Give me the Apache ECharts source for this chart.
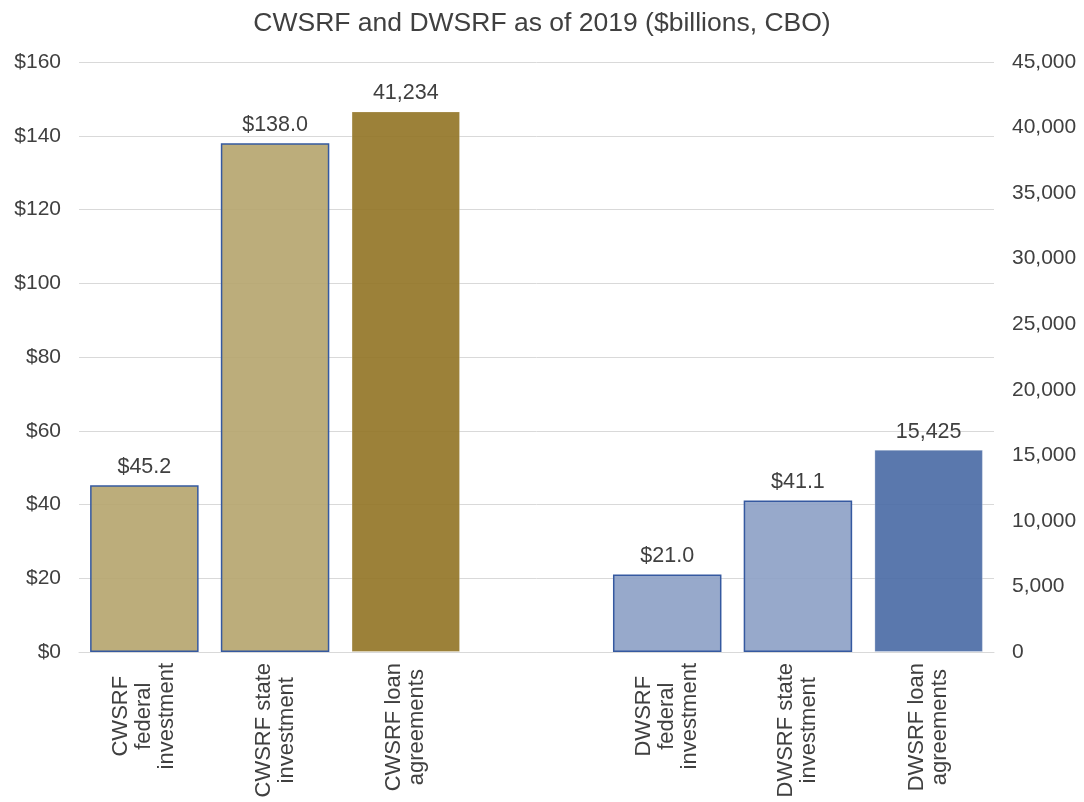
<!DOCTYPE html>
<html>
<head>
<meta charset="utf-8">
<script src="https://cdn.jsdelivr.net/npm/echarts@6/dist/echarts.min.js"></script>
<style>
  html, body { margin: 0; padding: 0; background: #fff; }
  #chart { width: 1084px; height: 802px; }
</style>
</head>
<body>
<div id="chart"></div>
<script>
// Categories (an empty slot separates the two funds)
const categories = [
  'CWSRF\nfederal\ninvestment',
  'CWSRF state\ninvestment',
  'CWSRF loan\nagreements',
  '',
  'DWSRF\nfederal\ninvestment',
  'DWSRF state\ninvestment',
  'DWSRF loan\nagreements'
];

// Investment amounts, $ billions (left axis)
const investment = [45.2, 138.0, null, null, 21.0, 41.1, null];

// Number of loan agreements (right axis)
const loanAgreements = [null, null, 41234, null, null, null, 15425];

// Bar colours per category
const investFill = ['rgba(181,164,109,0.9)', 'rgba(181,164,109,0.9)', null, null,
                    'rgba(140,160,197,0.9)', 'rgba(140,160,197,0.9)', null];
const loanFill = [null, null, 'rgba(148,118,40,0.92)', null, null, null, 'rgba(76,108,166,0.92)'];

const textColor = '#404040';
const fontFamily = '"Liberation Sans", Arial, Helvetica, sans-serif';

const chart = echarts.init(document.getElementById('chart'), null, { renderer: 'canvas' });

chart.setOption({
  backgroundColor: '#ffffff',
  animation: false,
  textStyle: { fontFamily: fontFamily, color: textColor },
  title: {
    text: 'CWSRF and DWSRF as of 2019 ($billions, CBO)',
    left: 'center',
    top: 5,
    textStyle: { fontSize: 26.5, fontWeight: 'normal', color: textColor, fontFamily: fontFamily }
  },
  grid: { left: 79, right: 90, top: 62, bottom: 150 },
  xAxis: {
    type: 'category',
    data: categories,
    axisTick: { show: false },
    axisLine: { lineStyle: { color: '#d9d9d9', width: 1 } },
    axisLabel: {
      interval: 0,
      rotate: 90,
      margin: 11,
      color: textColor,
      formatter: function (v) {
        return v.split('\n').map(function (l) { return '{c|' + l + '}'; }).join('\n');
      },
      rich: {
        c: { align: 'center', fontSize: 22, lineHeight: 23, color: textColor, fontFamily: fontFamily }
      }
    }
  },
  yAxis: [
    {
      type: 'value',
      min: 0, max: 160, interval: 20,
      axisLine: { show: false },
      axisTick: { show: false },
      splitLine: { lineStyle: { color: '#d9d9d9', width: 1 } },
      axisLabel: {
        margin: 18, fontSize: 21, color: textColor,
        formatter: function (v) { return '$' + v; }
      }
    },
    {
      type: 'value',
      min: 0, max: 45000, interval: 5000,
      axisLine: { show: false },
      axisTick: { show: false },
      splitLine: { show: false },
      axisLabel: {
        margin: 18, fontSize: 21, color: textColor,
        formatter: function (v) { return v.toLocaleString('en-US'); }
      }
    }
  ],
  series: [
    {
      name: 'Investment',
      type: 'bar',
      yAxisIndex: 0,
      barWidth: '83%',
      barGap: '-100%',
      data: investment.map(function (v, i) {
        return { value: v, itemStyle: { color: investFill[i] } };
      }),
      itemStyle: { borderColor: '#3559a0', borderWidth: 1.5 },
      label: {
        show: true,
        position: 'top',
        distance: 7,
        fontSize: 21.5,
        color: textColor,
        formatter: function (p) { return '$' + Number(p.value).toFixed(1); }
      }
    },
    {
      name: 'Loan agreements',
      type: 'bar',
      yAxisIndex: 1,
      barWidth: '83%',
      barGap: '-100%',
      data: loanAgreements.map(function (v, i) {
        return { value: v, itemStyle: { color: loanFill[i] } };
      }),
      itemStyle: { borderColor: 'rgba(255,255,255,0.25)', borderWidth: 1 },
      label: {
        show: true,
        position: 'top',
        distance: 7,
        fontSize: 21.5,
        color: textColor,
        formatter: function (p) { return Number(p.value).toLocaleString('en-US'); }
      }
    }
  ]
});
</script>
</body>
</html>
